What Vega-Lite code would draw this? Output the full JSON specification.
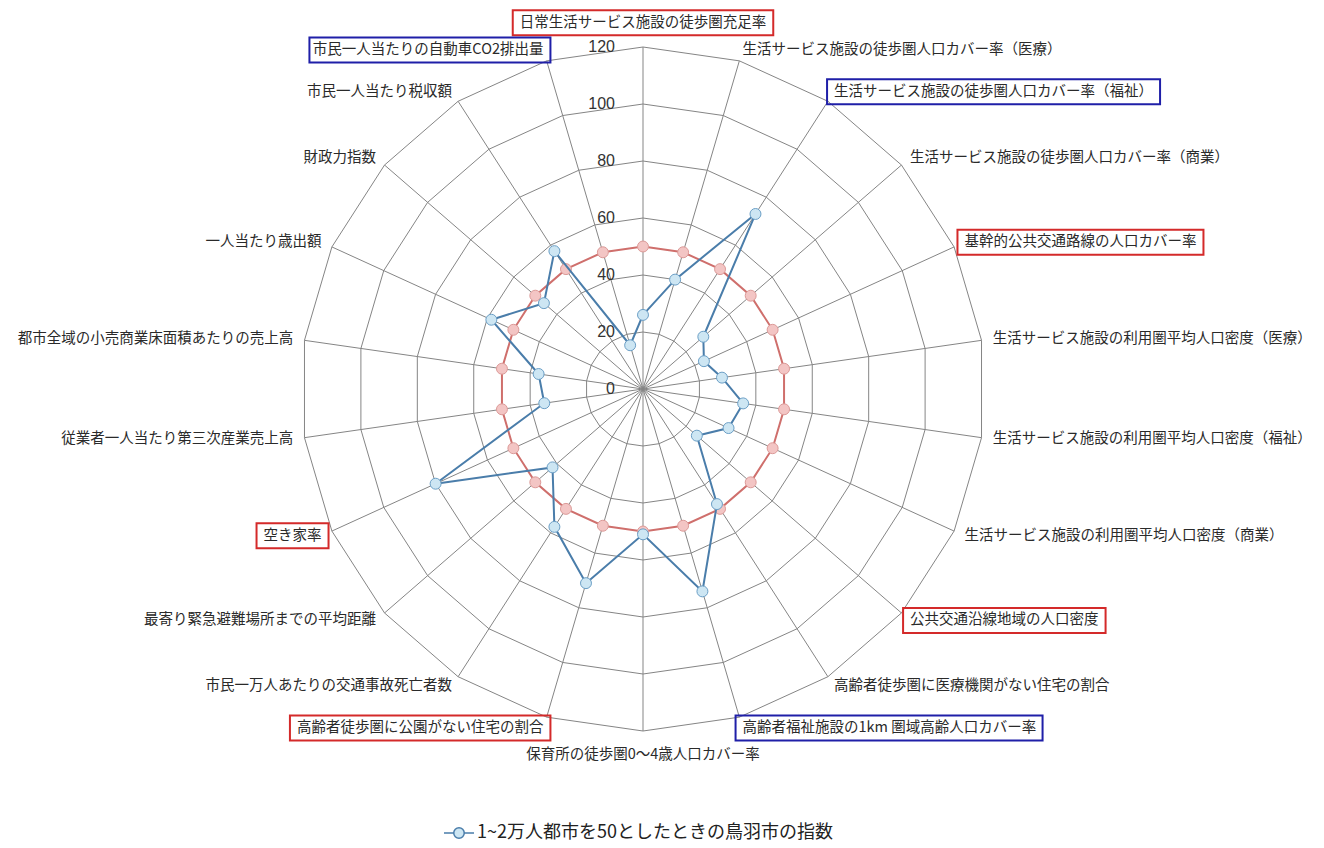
{
  "$schema": "https://vega.github.io/schema/vega-lite/v6.json",
  "width": 684,
  "height": 684,
  "autosize": {"type": "none"},
  "padding": {"left": 301, "top": 47, "right": 339, "bottom": 117},
  "background": "white",
  "config": {"view": {"stroke": null}},
  "datasets": {
    "axes": [
      {"i": 0, "label": "日常生活サービス施設の徒歩圏充足率", "value": 26, "base": 50, "box": "red"},
      {"i": 1, "label": "生活サービス施設の徒歩圏人口カバー率（医療）", "value": 40, "base": 50, "box": "none"},
      {"i": 2, "label": "生活サービス施設の徒歩圏人口カバー率（福祉）", "value": 73, "base": 50, "box": "blue"},
      {"i": 3, "label": "生活サービス施設の徒歩圏人口カバー率（商業）", "value": 28, "base": 50, "box": "none"},
      {"i": 4, "label": "基幹的公共交通路線の人口カバー率", "value": 23.5, "base": 50, "box": "red"},
      {"i": 5, "label": "生活サービス施設の利用圏平均人口密度（医療）", "value": 28, "base": 50, "box": "none"},
      {"i": 6, "label": "生活サービス施設の利用圏平均人口密度（福祉）", "value": 35.5, "base": 50, "box": "none"},
      {"i": 7, "label": "生活サービス施設の利用圏平均人口密度（商業）", "value": 33, "base": 50, "box": "none"},
      {"i": 8, "label": "公共交通沿線地域の人口密度", "value": 25, "base": 50, "box": "red"},
      {"i": 9, "label": "高齢者徒歩圏に医療機関がない住宅の割合", "value": 48, "base": 50, "box": "none"},
      {"i": 10, "label": "高齢者福祉施設の1km 圏域高齢人口カバー率", "value": 74, "base": 50, "box": "blue"},
      {"i": 11, "label": "保育所の徒歩圏0～4歳人口カバー率", "value": 51, "base": 50, "box": "none"},
      {"i": 12, "label": "高齢者徒歩圏に公園がない住宅の割合", "value": 71, "base": 50, "box": "red"},
      {"i": 13, "label": "市民一万人あたりの交通事故死亡者数", "value": 57.5, "base": 50, "box": "none"},
      {"i": 14, "label": "最寄り緊急避難場所までの平均距離", "value": 42, "base": 50, "box": "none"},
      {"i": 15, "label": "空き家率", "value": 80, "base": 50, "box": "red"},
      {"i": 16, "label": "従業者一人当たり第三次産業売上高", "value": 35, "base": 50, "box": "none"},
      {"i": 17, "label": "都市全域の小売商業床面積あたりの売上高", "value": 37, "base": 50, "box": "none"},
      {"i": 18, "label": "一人当たり歳出額", "value": 58.5, "base": 50, "box": "none"},
      {"i": 19, "label": "財政力指数", "value": 46, "base": 50, "box": "none"},
      {"i": 20, "label": "市民一人当たり税収額", "value": 57.5, "base": 50, "box": "none"},
      {"i": 21, "label": "市民一人当たりの自動車CO2排出量", "value": 16, "base": 50, "box": "blue"}
    ],
    "ticks": [{"t": 0}, {"t": 20}, {"t": 40}, {"t": 60}, {"t": 80}, {"t": 100}, {"t": 120}]
  },
  "data": {"name": "axes"},
  "transform": [
    {"calculate": "datum.i * 2 * PI / 22", "as": "th"},
    {"calculate": "sin(datum.th)", "as": "s"},
    {"calculate": "cos(datum.th)", "as": "c"},
    {"calculate": "datum.value * datum.s", "as": "vx"},
    {"calculate": "datum.value * datum.c", "as": "vy"},
    {"calculate": "datum.base * datum.s", "as": "bx"},
    {"calculate": "datum.base * datum.c", "as": "by"},
    {"calculate": "120 * datum.s", "as": "ex"},
    {"calculate": "120 * datum.c", "as": "ey"},
    {"calculate": "(datum.i == 0 || datum.i == 11) ? 128.5 : 124", "as": "lr"},
    {"calculate": "datum.lr * datum.s", "as": "lx"},
    {"calculate": "datum.lr * datum.c", "as": "ly"},
    {"calculate": "length(datum.label) - length(replace(datum.label, regexp('[ -~]', 'g'), ''))", "as": "nh"},
    {"calculate": "((length(datum.label) - datum.nh) * 14.5 + datum.nh * 8) * 240 / 684", "as": "w"},
    {"calculate": "7 * 240 / 684", "as": "pad"},
    {"calculate": "datum.i == 0 || datum.i == 11 ? datum.lx - datum.w / 2 - datum.pad : (datum.i < 11 ? datum.lx - datum.pad : datum.lx - datum.w - datum.pad)", "as": "x1"},
    {"calculate": "datum.i == 0 || datum.i == 11 ? datum.lx + datum.w / 2 + datum.pad : (datum.i < 11 ? datum.lx + datum.w + datum.pad : datum.lx + datum.pad)", "as": "x2"},
    {"calculate": "datum.ly - 4.4", "as": "y1"},
    {"calculate": "datum.ly + 4.4", "as": "y2"}
  ],
  "layer": [
    {
      "transform": [
        {"calculate": "[20, 40, 60, 80, 100, 120]", "as": "lv"},
        {"flatten": ["lv"]},
        {"calculate": "datum.lv * datum.s", "as": "gx"},
        {"calculate": "datum.lv * datum.c", "as": "gy"}
      ],
      "mark": {"type": "line", "interpolate": "linear-closed", "color": "#858585", "strokeWidth": 1},
      "encoding": {
        "x": {"field": "gx", "type": "quantitative", "scale": {"domain": [-120, 120], "nice": false, "zero": false}, "axis": null},
        "y": {"field": "gy", "type": "quantitative", "scale": {"domain": [-120, 120], "nice": false, "zero": false}, "axis": null},
        "detail": {"field": "lv", "type": "nominal"},
        "order": {"field": "i", "type": "quantitative"}
      }
    },
    {
      "mark": {"type": "rule", "color": "#858585", "strokeWidth": 1},
      "encoding": {
        "x": {"field": "ex", "type": "quantitative"},
        "y": {"field": "ey", "type": "quantitative"},
        "x2": {"datum": 0},
        "y2": {"datum": 0}
      }
    },
    {
      "mark": {"type": "line", "interpolate": "linear-closed", "color": "#cf6f6c", "strokeWidth": 2},
      "encoding": {
        "x": {"field": "bx", "type": "quantitative"},
        "y": {"field": "by", "type": "quantitative"},
        "order": {"field": "i", "type": "quantitative"}
      }
    },
    {
      "mark": {"type": "point", "filled": true, "fill": "#f3c5c4", "stroke": "#dc9a98", "strokeWidth": 1, "size": 120, "opacity": 1},
      "encoding": {
        "x": {"field": "bx", "type": "quantitative"},
        "y": {"field": "by", "type": "quantitative"}
      }
    },
    {
      "mark": {"type": "line", "interpolate": "linear-closed", "strokeWidth": 2},
      "encoding": {
        "x": {"field": "vx", "type": "quantitative"},
        "y": {"field": "vy", "type": "quantitative"},
        "order": {"field": "i", "type": "quantitative"},
        "color": {
          "datum": "1~2万人都市を50としたときの鳥羽市の指数",
          "type": "nominal",
          "scale": {"range": ["#4a7daa"]},
          "legend": {
            "title": null,
            "orient": "none",
            "legendX": 142,
            "legendY": 770,
            "padding": 0,
            "symbolType": "M-1,0L-0.35,0M0.35,0L1,0M-0.35,0A0.35,0.35,0,1,1,0.35,0A0.35,0.35,0,1,1,-0.35,0Z",
            "symbolSize": 900,
            "symbolStrokeWidth": 1.5,
            "symbolFillColor": "#cde6f3",
            "labelFont": "Noto Sans CJK JP",
            "labelFontSize": 18,
            "labelColor": "#222222",
            "labelOffset": 2,
            "labelLimit": 600,
            "encode": {"symbols": {"update": {"fill": {"value": "#cde6f3"}, "stroke": {"value": "#6b9fc6"}}}}
          }
        }
      }
    },
    {
      "mark": {"type": "point", "filled": true, "fill": "#cde6f3", "stroke": "#6b9fc6", "strokeWidth": 1, "size": 120, "opacity": 1},
      "encoding": {
        "x": {"field": "vx", "type": "quantitative"},
        "y": {"field": "vy", "type": "quantitative"}
      }
    },
    {
      "data": {"name": "ticks"},
      "mark": {"type": "text", "align": "right", "baseline": "middle", "dx": -28, "font": "Liberation Sans", "fontSize": 16, "color": "#333333"},
      "encoding": {
        "x": {"datum": 0, "type": "quantitative"},
        "y": {"field": "t", "type": "quantitative"},
        "text": {"field": "t", "type": "quantitative"}
      }
    },
    {
      "transform": [{"filter": "datum.box != 'none'"}],
      "mark": {"type": "rect", "filled": false, "strokeWidth": 2},
      "encoding": {
        "x": {"field": "x1", "type": "quantitative"},
        "x2": {"field": "x2"},
        "y": {"field": "y1", "type": "quantitative"},
        "y2": {"field": "y2"},
        "stroke": {"field": "box", "type": "nominal", "scale": {"domain": ["red", "blue"], "range": ["#d42a2a", "#1f1fa8"]}, "legend": null}
      }
    },
    {
      "transform": [{"filter": "datum.i >= 1 && datum.i <= 10"}],
      "mark": {"type": "text", "align": "left", "baseline": "middle", "font": "Noto Sans CJK JP", "fontSize": 14.5, "color": "#2a2a2a"},
      "encoding": {
        "x": {"field": "lx", "type": "quantitative"},
        "y": {"field": "ly", "type": "quantitative"},
        "text": {"field": "label", "type": "nominal"}
      }
    },
    {
      "transform": [{"filter": "datum.i >= 12"}],
      "mark": {"type": "text", "align": "right", "baseline": "middle", "font": "Noto Sans CJK JP", "fontSize": 14.5, "color": "#2a2a2a"},
      "encoding": {
        "x": {"field": "lx", "type": "quantitative"},
        "y": {"field": "ly", "type": "quantitative"},
        "text": {"field": "label", "type": "nominal"}
      }
    },
    {
      "transform": [{"filter": "datum.i == 0 || datum.i == 11"}],
      "mark": {"type": "text", "align": "center", "baseline": "middle", "font": "Noto Sans CJK JP", "fontSize": 14.5, "color": "#2a2a2a"},
      "encoding": {
        "x": {"field": "lx", "type": "quantitative"},
        "y": {"field": "ly", "type": "quantitative"},
        "text": {"field": "label", "type": "nominal"}
      }
    }
  ]
}
